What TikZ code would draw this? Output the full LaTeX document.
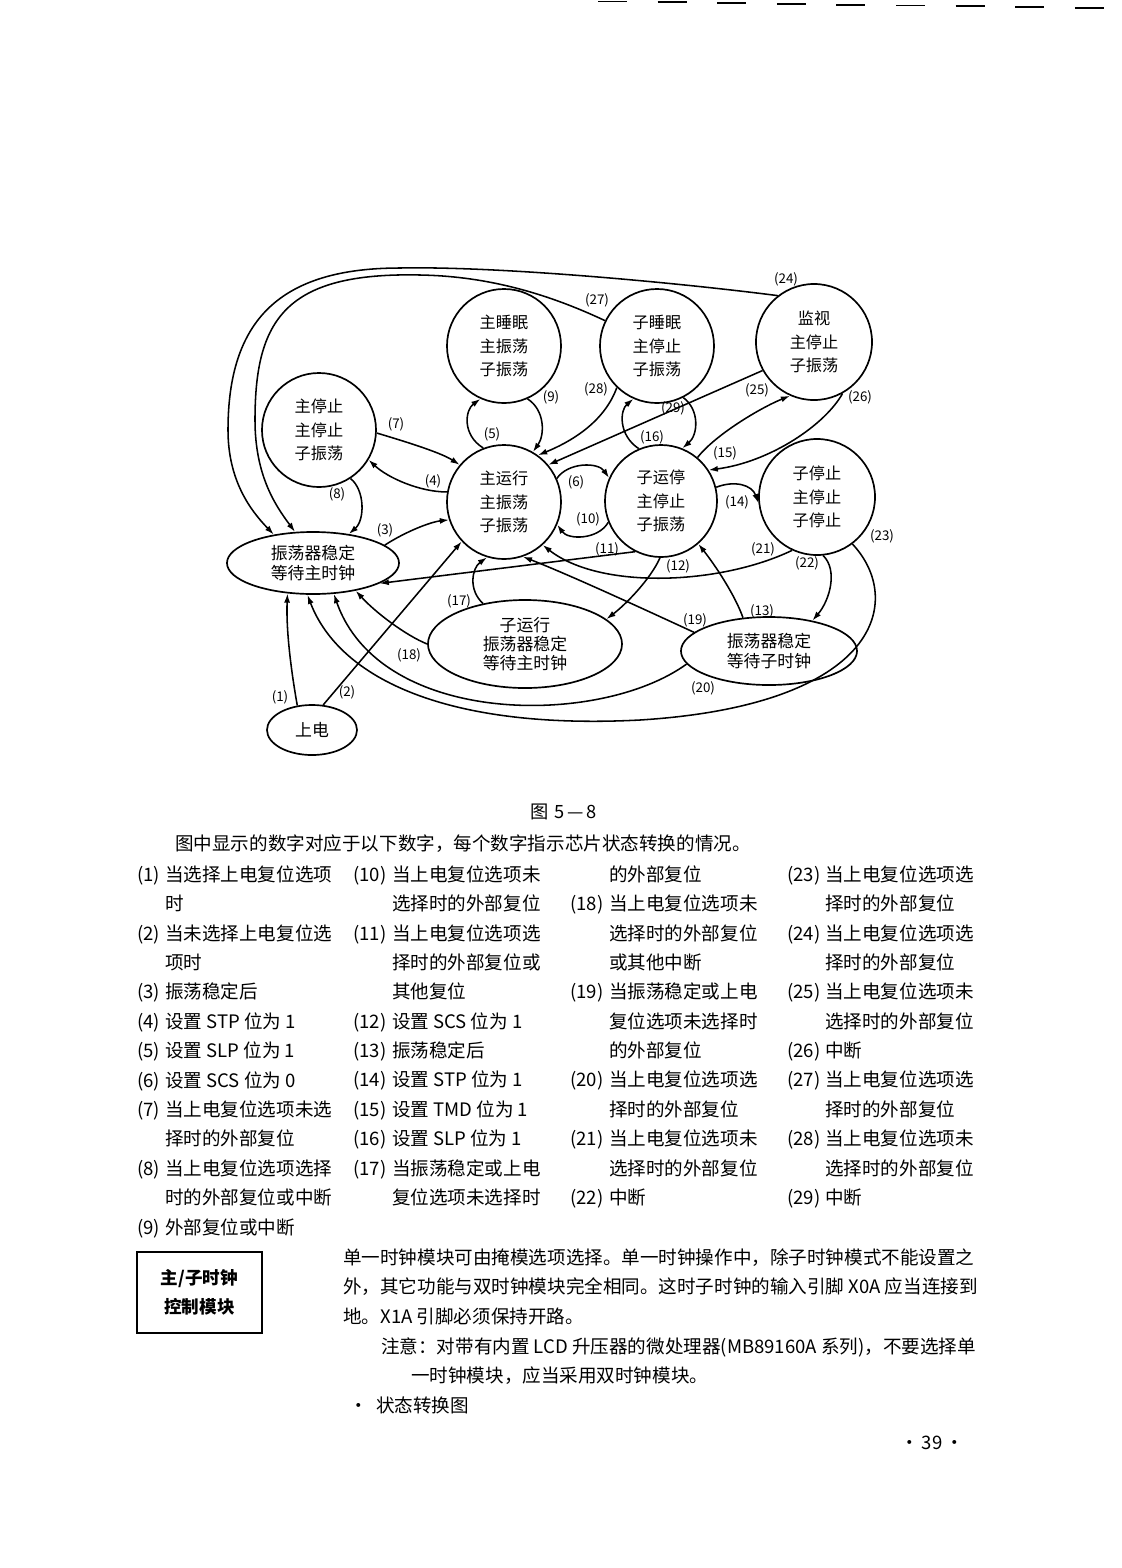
\documentclass[tikz,border=0pt]{standalone}
\usepackage{fontspec}
\setmainfont{Noto Sans CJK SC}
\usepackage{tikz}
\usetikzlibrary{positioning,arrows.meta,shapes.geometric}
\tikzset{
  >={Latex[length=2.3mm,width=1.5mm]},
  state/.style={draw, circle, line width=1.2pt, minimum size=2.85cm, inner sep=0pt,
                align=center, font=\fontsize{11.5}{16.5}\selectfont},
  wait/.style={draw, ellipse, line width=1.2pt, inner sep=0pt, align=center,
               font=\fontsize{12}{13.8}\selectfont},
  num/.style={inner sep=0pt, font=\fontsize{9.5}{10}\selectfont},
  tr/.style={->, line width=1.1pt},
  body/.style={anchor=base west, align=left, inner sep=0pt,
               font=\fontsize{13.2}{20.9}\selectfont},
}

\begin{document}
\begin{tikzpicture}[x=0.025cm,y=-0.025cm]
  \useasboundingbox (0,0) rectangle (1122,1568);
  % header rule
  \foreach \i in {0,...,8}
    \draw[line width=1.4pt] ({598+59.6*\i},{1.5+0.8*\i}) -- ++(29,0);
  % states
  \node[state] (msleep) at (504,346) {主睡眠\\主振荡\\子振荡};
  \node[state] (ssleep) at (657,346) {子睡眠\\主停止\\子振荡};
  \node[state,minimum size=2.9cm] (watch) at (814,342) {监视\\主停止\\子振荡};
  \node[state] (mstop) at (319,430) {主停止\\主停止\\子振荡};
  \node[state] (mrun) at (504,502) {主运行\\主振荡\\子振荡};
  \node[state,minimum size=2.8cm] (srun) at (661,501) {子运停\\主停止\\子振荡};
  \node[state,minimum size=2.9cm] (sstop) at (817,497) {子停止\\主停止\\子停止};
  \node[wait,minimum width=4.3cm,minimum height=1.55cm] (wmain) at (313,563) {振荡器稳定\\等待主时钟};
  \node[wait,minimum width=4.85cm,minimum height=2.2cm] (subrun) at (525,644) {子运行\\振荡器稳定\\等待主时钟};
  \node[wait,minimum width=4.4cm,minimum height=1.7cm] (wsub) at (769,651) {振荡器稳定\\等待子时钟};
  \node[wait,minimum width=2.25cm,minimum height=1.25cm] (pon) at (312,730) {上电};
  % transitions
  \draw[tr] (pon.121) .. controls (291,670) and (286,630) .. (wmain.230);
  \draw[tr] (pon.66) -- (mrun.223);
  \draw[tr] (wmain.14) .. controls (405,532) and (430,522) .. (mrun.198);
  \draw[tr] (mrun.170) .. controls (420,492) and (388,478) .. (mstop.329);
  \draw[tr] (mstop.357) .. controls (400,440) and (440,452) .. (mrun.140);
  \draw[tr] (mstop.303) .. controls (365,490) and (365,520) .. (wmain.39);
  \draw[tr] (mrun.111) .. controls (462,435) and (465,410) .. (msleep.246);
  \draw[tr] (msleep.294) .. controls (545,410) and (545,435) .. (mrun.60);
  \draw[tr] (ssleep.226) .. controls (605,420) and (575,440) .. (mrun.54);
  \draw[tr] (watch.209) -- (mrun.40);
  \draw[tr] (srun.50) .. controls (715,435) and (760,408) .. (watch.246);
  \draw[tr] (watch.299) .. controls (825,425) and (770,462) .. (srun.33);
  \draw[tr] (srun.113) .. controls (618,435) and (620,410) .. (ssleep.246);
  \draw[tr] (ssleep.297) .. controls (700,410) and (698,435) .. (srun.68);
  \draw[tr] (mrun.24) .. controls (568,462) and (598,462) .. (srun.156);
  \draw[tr] (srun.202) .. controls (598,540) and (568,540) .. (mrun.337);
  \draw[tr] (srun.14) .. controls (735,480) and (752,485) .. (sstop.186);
  \draw[tr] (srun.243) -- (wmain.343);
  \draw[tr] (sstop.245) .. controls (720,585) and (600,590) .. (mrun.312);
  \draw[tr] (srun.269) .. controls (650,580) and (625,605) .. (subrun.17);
  \draw[tr] (wsub.128) .. controls (735,595) and (715,565) .. (srun.311);
  \draw[tr] (sstop.276) .. controls (838,570) and (830,600) .. (wsub.35);
  \draw[tr] (wsub.166) .. controls (650,612) and (570,575) .. (mrun.289);
  \draw[tr] (subrun.136) .. controls (468,590) and (472,568) .. (mrun.253);
  \draw[tr] (subrun.180) .. controls (405,635) and (375,612) .. (wmain.327);
  \draw[tr] (wsub.189) .. controls (600,727) and (380,727) .. (wmain.304);
  \draw[tr] (sstop.307) .. controls (905,600) and (880,705) .. (640,720)
            .. controls (450,730) and (340,680) .. (wmain.260);
  \draw[tr] (watch.128) .. controls (680,283) and (500,266) .. (400,268)
            .. controls (280,268) and (228,320) .. (228,430)
            .. controls (228,480) and (250,510) .. (wmain.144);
  \draw[tr] (ssleep.154) .. controls (540,290) and (480,276) .. (420,275)
            .. controls (285,272) and (255,320) .. (255,420)
            .. controls (255,475) and (275,505) .. (wmain.120);
  % numbers
  \node[num] (n1) at (280,697) {(1)};
  \node[num] (n2) at (347,692) {(2)};
  \node[num] (n3) at (385,530) {(3)};
  \node[num] (n4) at (433,481) {(4)};
  \node[num] (n5) at (492,434) {(5)};
  \node[num] (n6) at (576,482) {(6)};
  \node[num] (n7) at (396,424) {(7)};
  \node[num] (n8) at (337,494) {(8)};
  \node[num] (n9) at (551,397) {(9)};
  \node[num] (n10) at (588,519) {(10)};
  \node[num] (n11) at (607,549) {(11)};
  \node[num] (n12) at (678,566) {(12)};
  \node[num] (n13) at (762,611) {(13)};
  \node[num] (n14) at (737,502) {(14)};
  \node[num] (n15) at (725,453) {(15)};
  \node[num] (n16) at (652,437) {(16)};
  \node[num] (n17) at (459,601) {(17)};
  \node[num] (n18) at (409,655) {(18)};
  \node[num] (n19) at (695,620) {(19)};
  \node[num] (n20) at (703,688) {(20)};
  \node[num] (n21) at (763,549) {(21)};
  \node[num] (n22) at (807,563) {(22)};
  \node[num] (n23) at (882,536) {(23)};
  \node[num] (n24) at (786,279) {(24)};
  \node[num] (n25) at (757,390) {(25)};
  \node[num] (n26) at (860,397) {(26)};
  \node[num] (n27) at (597,300) {(27)};
  \node[num] (n28) at (596,389) {(28)};
  \node[num] (n29) at (673,408) {(29)};
  % caption and list (base = last line)
  \node[font=\fontsize{13}{15}\selectfont] (cap) at (564,812) {图\hspace{4pt}5\hspace{2pt}—\hspace{2pt}8};
  \node[body] (intro) at (175,850) {图中显示的数字对应于以下数字，每个数字指示芯片状态转换的情况。};
  \node[body] (col1) at (137,1234) {\makebox[19.8pt][l]{(1)}当选择上电复位选项\\
    \hspace*{19.8pt}时\\
    \makebox[19.8pt][l]{(2)}当未选择上电复位选\\
    \hspace*{19.8pt}项时\\
    \makebox[19.8pt][l]{(3)}振荡稳定后\\
    \makebox[19.8pt][l]{(4)}设置 STP 位为 1\\
    \makebox[19.8pt][l]{(5)}设置 SLP 位为 1\\
    \makebox[19.8pt][l]{(6)}设置 SCS 位为 0\\
    \makebox[19.8pt][l]{(7)}当上电复位选项未选\\
    \hspace*{19.8pt}择时的外部复位\\
    \makebox[19.8pt][l]{(8)}当上电复位选项选择\\
    \hspace*{19.8pt}时的外部复位或中断\\
    \makebox[19.8pt][l]{(9)}外部复位或中断};
  \node[body] (col2) at (353,1204.5) {\makebox[27.6pt][l]{(10)}当上电复位选项未\\
    \hspace*{27.6pt}选择时的外部复位\\
    \makebox[27.6pt][l]{(11)}当上电复位选项选\\
    \hspace*{27.6pt}择时的外部复位或\\
    \hspace*{27.6pt}其他复位\\
    \makebox[27.6pt][l]{(12)}设置 SCS 位为 1\\
    \makebox[27.6pt][l]{(13)}振荡稳定后\\
    \makebox[27.6pt][l]{(14)}设置 STP 位为 1\\
    \makebox[27.6pt][l]{(15)}设置 TMD 位为 1\\
    \makebox[27.6pt][l]{(16)}设置 SLP 位为 1\\
    \makebox[27.6pt][l]{(17)}当振荡稳定或上电\\
    \hspace*{27.6pt}复位选项未选择时};
  \node[body] (col3) at (570,1204.5) {\hspace*{27.6pt}的外部复位\\
    \makebox[27.6pt][l]{(18)}当上电复位选项未\\
    \hspace*{27.6pt}选择时的外部复位\\
    \hspace*{27.6pt}或其他中断\\
    \makebox[27.6pt][l]{(19)}当振荡稳定或上电\\
    \hspace*{27.6pt}复位选项未选择时\\
    \hspace*{27.6pt}的外部复位\\
    \makebox[27.6pt][l]{(20)}当上电复位选项选\\
    \hspace*{27.6pt}择时的外部复位\\
    \makebox[27.6pt][l]{(21)}当上电复位选项未\\
    \hspace*{27.6pt}选择时的外部复位\\
    \makebox[27.6pt][l]{(22)}中断};
  \node[body] (col4) at (787,1204.5) {\makebox[27pt][l]{(23)}当上电复位选项选\\
    \hspace*{27pt}择时的外部复位\\
    \makebox[27pt][l]{(24)}当上电复位选项选\\
    \hspace*{27pt}择时的外部复位\\
    \makebox[27pt][l]{(25)}当上电复位选项未\\
    \hspace*{27pt}选择时的外部复位\\
    \makebox[27pt][l]{(26)}中断\\
    \makebox[27pt][l]{(27)}当上电复位选项选\\
    \hspace*{27pt}择时的外部复位\\
    \makebox[27pt][l]{(28)}当上电复位选项未\\
    \hspace*{27pt}选择时的外部复位\\
    \makebox[27pt][l]{(29)}中断};
  % side box and paragraph
  \node[draw, line width=1pt, minimum width=3.125cm, minimum height=2.025cm, align=center,
        font=\bfseries\fontsize{12.5}{20.5}\selectfont] (ctl) at (199.5,1292.5) {主/子时钟\\控制模块};
  \node[body] (para) at (343,1323) {单一时钟模块可由掩模选项选择。单一时钟操作中，除子时钟模式不能设置之\\
    外，其它功能与双时钟模块完全相同。这时子时钟的输入引脚 X0A 应当连接到\\
    地。X1A 引脚必须保持开路。};
  \node[body] (note) at (381,1382.5) {注意：对带有内置 LCD 升压器的微处理器(MB89160A 系列)，不要选择单\\
    \hspace*{21.3pt}一时钟模块，应当采用双时钟模块。};
  \node[body] (bul) at (349,1412) {·\hspace{6pt}状态转换图};
  \node[body] (pg) at (900,1449) {·\,39\,·};
\end{tikzpicture}
\end{document}
